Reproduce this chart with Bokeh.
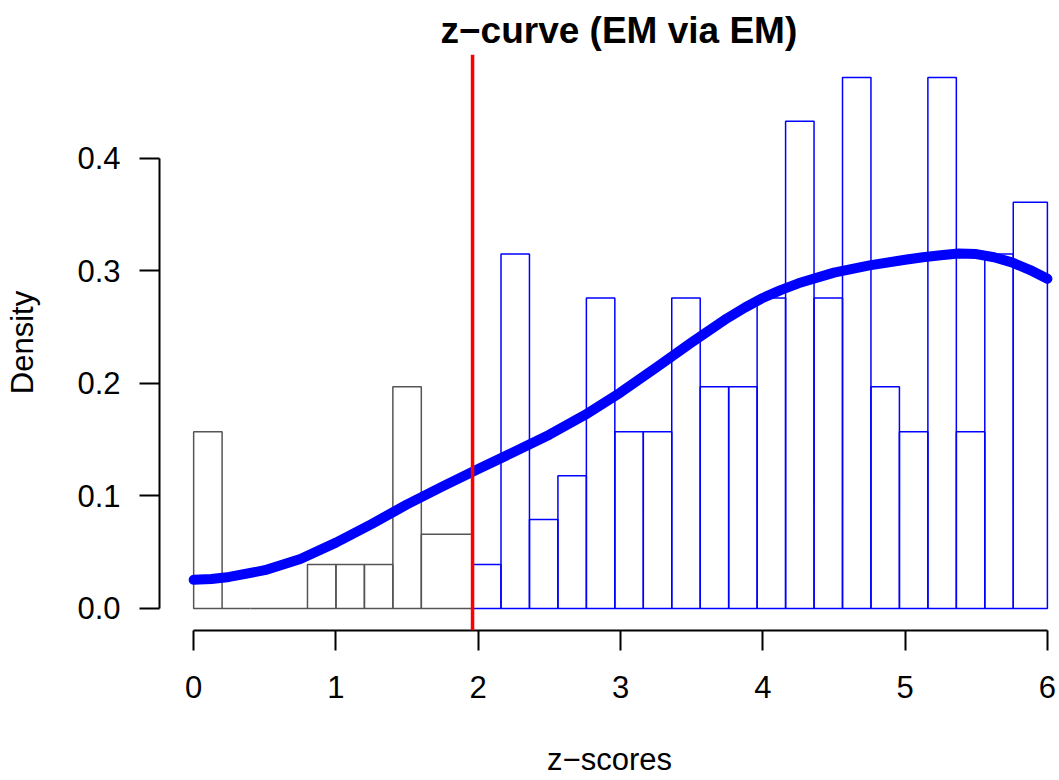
from bokeh.plotting import figure
from bokeh.models import Range1d, FixedTicker, Span, PrintfTickFormatter, ColumnDataSource
from bokeh.embed import file_html
from bokeh.resources import INLINE

# ---- data ----
grey_edges = [0.0, 0.2, 0.4, 0.6, 0.8, 1.0, 1.2, 1.4, 1.6, 1.96]
grey_density = [0.157, 0.0, 0.0, 0.0, 0.039, 0.039, 0.039, 0.197, 0.066]

blue_edges = [1.96, 2.16, 2.36, 2.56, 2.76, 2.96, 3.16, 3.36, 3.56, 3.76, 3.96,
              4.16, 4.36, 4.56, 4.76, 4.96, 5.16, 5.36, 5.56, 5.76, 6.0]
blue_density = [0.039, 0.315, 0.079, 0.118, 0.276, 0.157, 0.157, 0.276, 0.197, 0.197,
                0.276, 0.433, 0.276, 0.472, 0.197, 0.157, 0.472, 0.157, 0.315, 0.361]

curve_z = [0.0, 0.125, 0.25, 0.5, 0.75, 1.0, 1.25, 1.5, 1.75, 2.0, 2.25, 2.5, 2.75, 3.0,
           3.25, 3.5, 3.75, 3.875, 4.0, 4.125, 4.25, 4.5, 4.75, 5.0, 5.125, 5.25, 5.375,
           5.5, 5.625, 5.75, 5.875, 6.0]
curve_density = [0.0255, 0.0262, 0.0280, 0.0340, 0.0440, 0.0585, 0.0750, 0.0925, 0.1085,
                 0.1240, 0.1390, 0.1545, 0.1720, 0.1920, 0.2140, 0.2365, 0.2580, 0.2675,
                 0.2760, 0.2830, 0.2890, 0.2985, 0.3050, 0.3100, 0.3122, 0.3140, 0.3155,
                 0.3150, 0.3122, 0.3076, 0.3010, 0.2930]

cutoff = 1.96
x_ticks = [0, 1, 2, 3, 4, 5, 6]
y_ticks = [0.0, 0.1, 0.2, 0.3, 0.4]

title_text = "z\u2212curve (EM via EM)"
x_label = "z\u2212scores"
y_label = "Density"

FONT = "Liberation Sans"

p = figure(width=1059, height=780, output_backend="svg", toolbar_location=None,
           x_range=Range1d(-0.24, 6.085), y_range=Range1d(-0.0196, 0.4924),
           min_border_left=159, min_border_right=0, min_border_top=54, min_border_bottom=150)

p.grid.visible = False
p.outline_line_color = None
p.background_fill_color = "white"
p.border_fill_color = "white"

grey_src = ColumnDataSource(dict(left=grey_edges[:-1], right=grey_edges[1:],
                                 top=grey_density, bottom=[0.0] * len(grey_density)))
blue_src = ColumnDataSource(dict(left=blue_edges[:-1], right=blue_edges[1:],
                                 top=blue_density, bottom=[0.0] * len(blue_density)))

p.quad(left="left", right="right", top="top", bottom="bottom", source=grey_src,
       fill_color=None, line_color="#555555", line_width=1.5)
p.quad(left="left", right="right", top="top", bottom="bottom", source=blue_src,
       fill_color=None, line_color="#0000FF", line_width=1.5)

p.line(curve_z, curve_density, line_color="#0000FF", line_width=10, line_cap="round",
       line_join="round")

p.add_layout(Span(location=cutoff, dimension="height",
                  line_color="#FF0000", line_width=3.5))

# title
p.title.text = title_text
p.title.text_font = FONT
p.title.text_font_size = "37px"
p.title.text_font_style = "bold"
p.title.text_color = "black"
p.title.align = "left"
p.title.offset = 281
p.title.standoff = 8

# x axis
xa = p.xaxis[0]
xa.ticker = FixedTicker(ticks=x_ticks)
xa.bounds = (0, 6)
xa.minor_tick_line_color = None
xa.major_tick_out = 20
xa.major_tick_in = 0
xa.axis_line_width = 2
xa.axis_line_color = "black"
xa.major_tick_line_width = 2
xa.major_tick_line_color = "black"
xa.major_label_text_font = FONT
xa.major_label_text_font_size = "31px"
xa.major_label_text_color = "black"
xa.major_label_standoff = 25
xa.axis_label = x_label
xa.axis_label_text_font = FONT
xa.axis_label_text_font_size = "31px"
xa.axis_label_text_color = "black"
xa.axis_label_text_font_style = "normal"
xa.axis_label_standoff = 41

# y axis
ya = p.yaxis[0]
ya.ticker = FixedTicker(ticks=y_ticks)
ya.formatter = PrintfTickFormatter(format="%.1f")
ya.bounds = (0, 0.4)
ya.minor_tick_line_color = None
ya.major_tick_out = 20
ya.major_tick_in = 0
ya.axis_line_width = 2
ya.axis_line_color = "black"
ya.major_tick_line_width = 2
ya.major_tick_line_color = "black"
ya.major_label_text_font = FONT
ya.major_label_text_font_size = "31px"
ya.major_label_text_color = "black"
ya.major_label_standoff = 19
ya.axis_label = y_label
ya.axis_label_text_font = FONT
ya.axis_label_text_font_size = "31px"
ya.axis_label_text_color = "black"
ya.axis_label_text_font_style = "normal"
ya.axis_label_standoff = 34

open("out.html", "w").write(file_html(p, INLINE))
